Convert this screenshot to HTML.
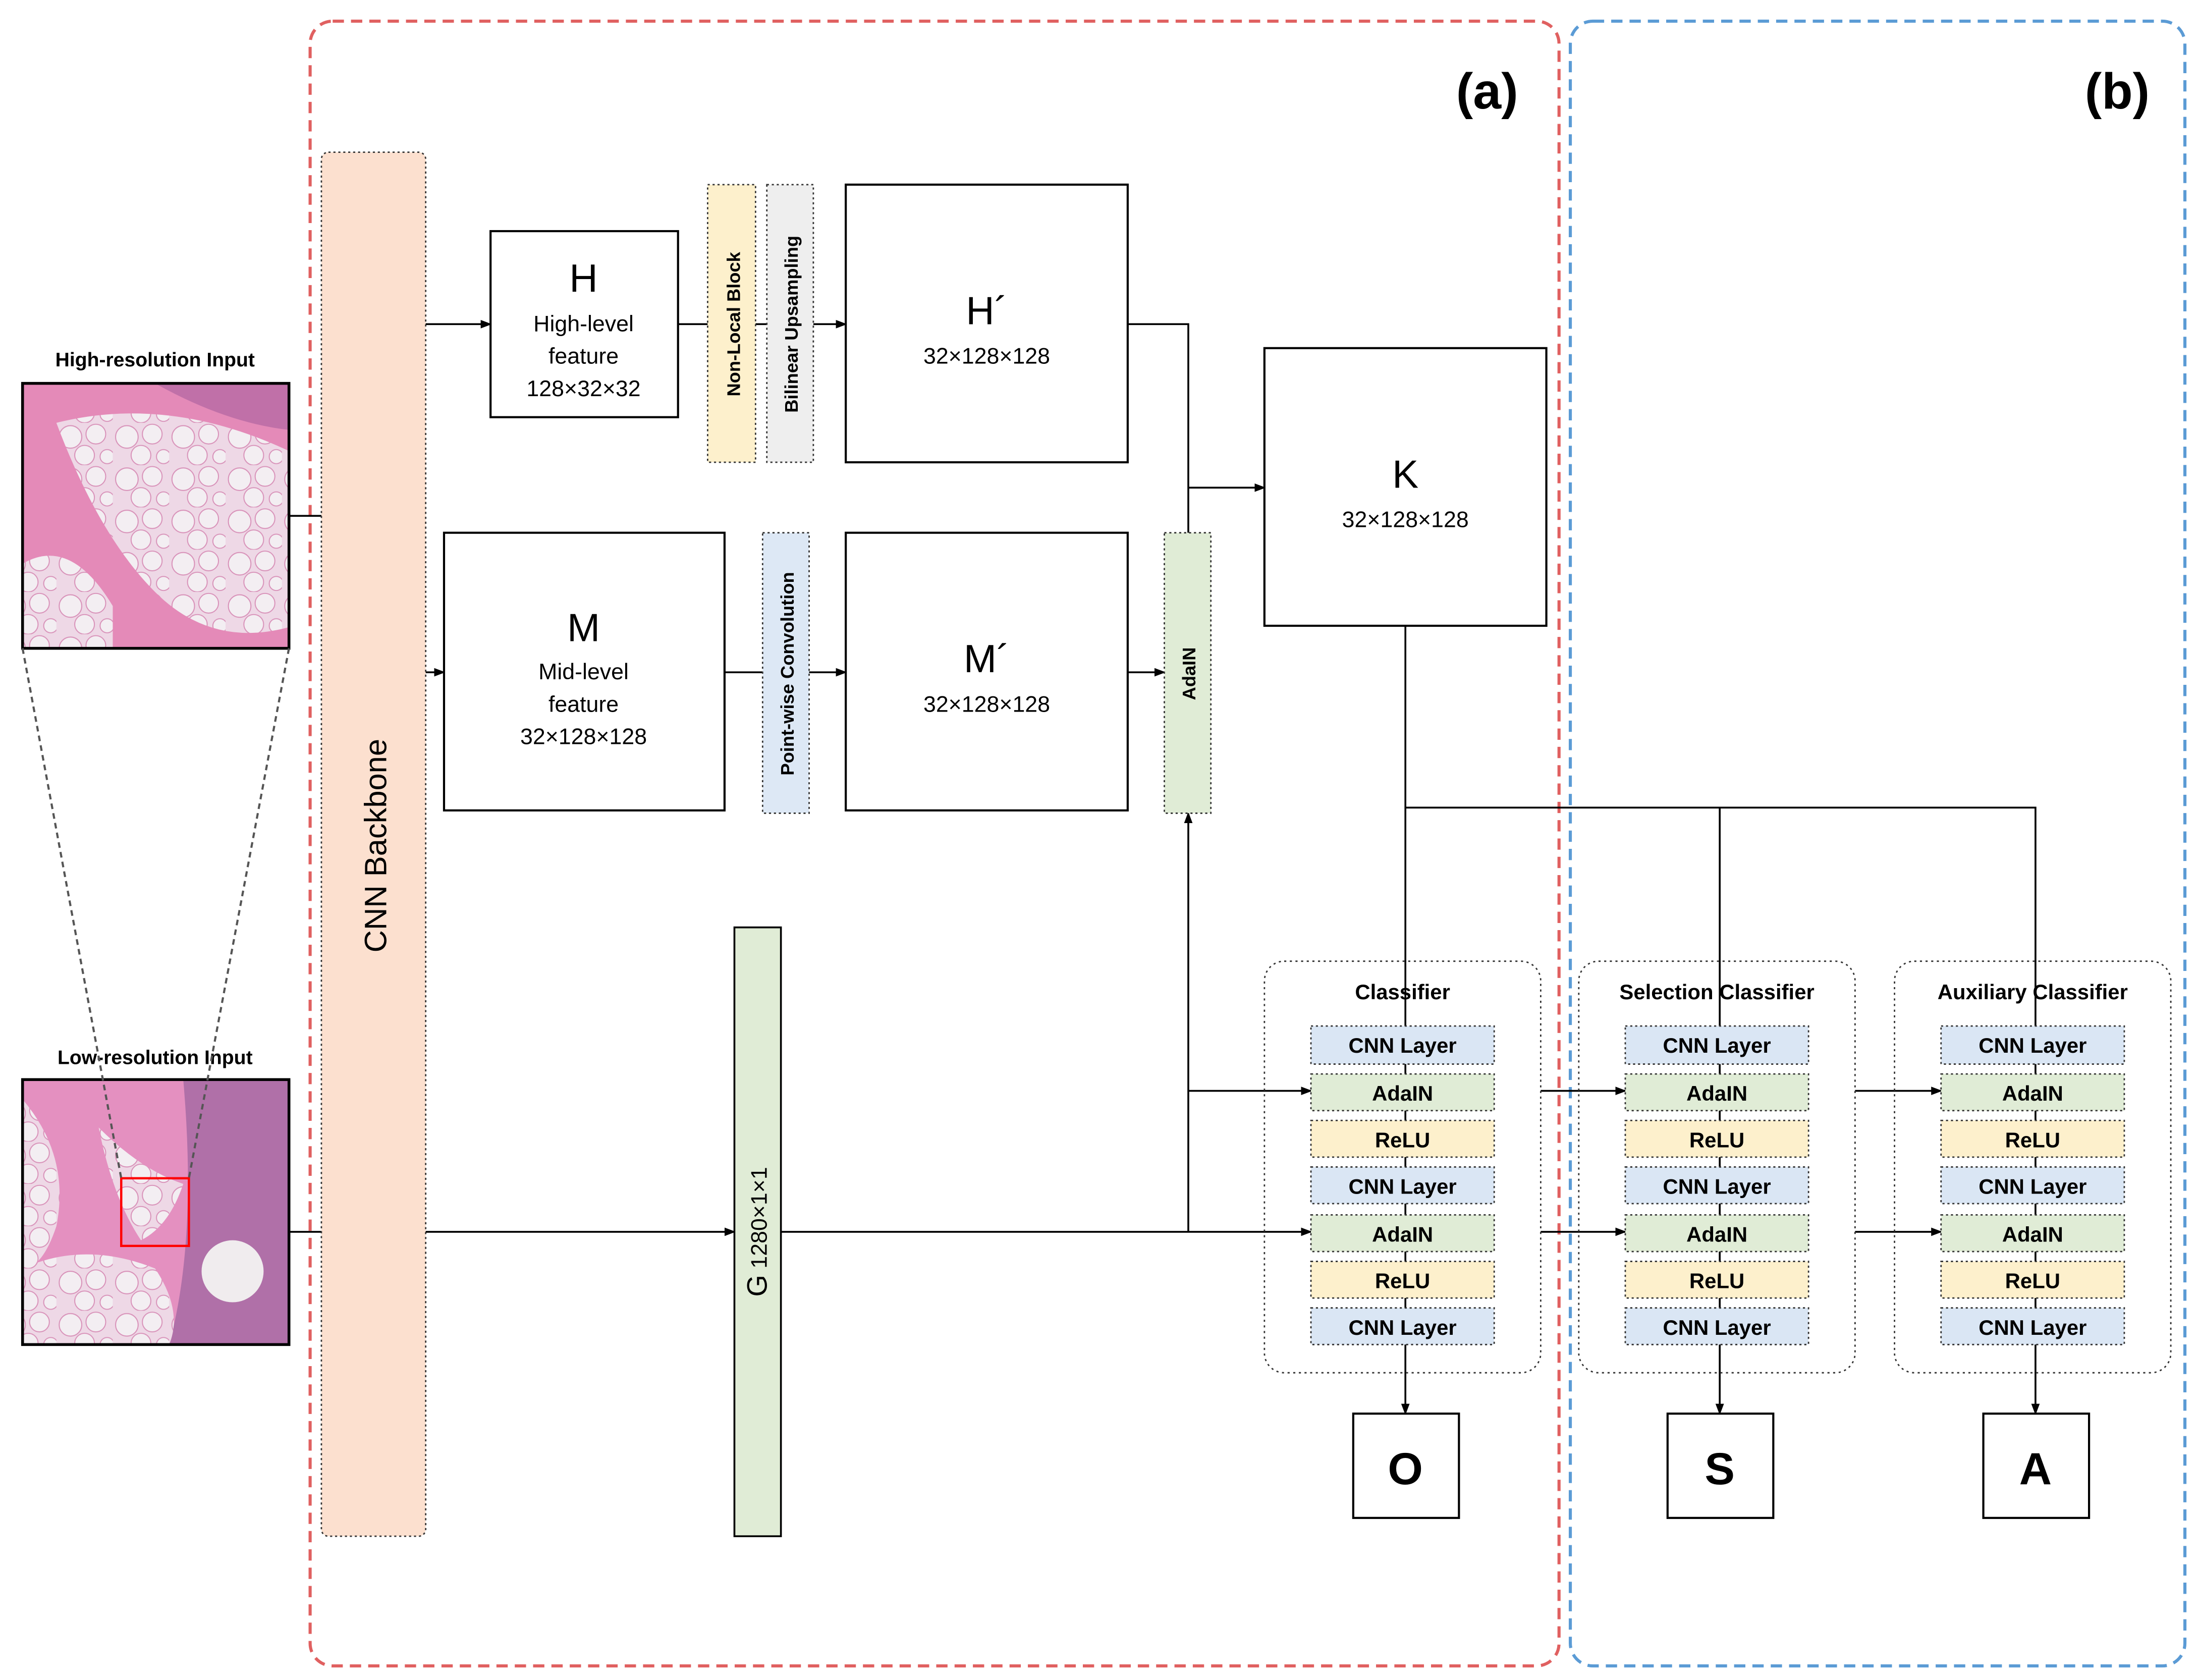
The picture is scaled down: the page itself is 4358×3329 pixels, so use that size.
<!DOCTYPE html>
<html><head><meta charset="utf-8"><style>
html,body{margin:0;padding:0;background:#fff;}
svg{display:block;}
text{font-family:"Liberation Sans","DejaVu Sans",sans-serif;fill:#000;}
.b{font-weight:bold;}
</style></head><body>
<svg width="4358" height="3329" viewBox="0 0 1560 1192" preserveAspectRatio="none" xmlns="http://www.w3.org/2000/svg">
<defs>
<marker id="ar" markerWidth="8" markerHeight="8" refX="7" refY="4" orient="auto" markerUnits="userSpaceOnUse">
<path d="M0,1 L8,4 L0,7 z" fill="#000"/></marker>
<pattern id="fat" width="40" height="30" patternUnits="userSpaceOnUse">
<rect width="40" height="30" fill="#eed8e6"/>
<circle cx="10" cy="10" r="8" fill="#f3eef2" stroke="#d890b8" stroke-width="0.7"/>
<circle cx="28" cy="8" r="7" fill="#f3eef2" stroke="#d890b8" stroke-width="0.7"/>
<circle cx="20" cy="23" r="7" fill="#f3eef2" stroke="#d890b8" stroke-width="0.7"/>
<circle cx="36" cy="24" r="5" fill="#f3eef2" stroke="#d890b8" stroke-width="0.7"/>
</pattern>
</defs>

<rect x="220" y="15" width="886" height="1167" rx="16" fill="none" stroke="#e06060" stroke-width="2.2" stroke-dasharray="8,5"/>
<rect x="1114" y="15" width="436" height="1167" rx="16" fill="none" stroke="#5b9bd5" stroke-width="2.2" stroke-dasharray="8,5"/>
<text x="1055" y="77" font-size="36" text-anchor="middle" class="b">(a)</text>
<text x="1502" y="77" font-size="36" text-anchor="middle" class="b">(b)</text>

<text x="110" y="260" font-size="14" text-anchor="middle" class="b">High-resolution Input</text>
<rect x="16" y="272" width="189" height="188" fill="#e48ab8"/>
<path d="M110,272 L205,272 L205,305 Q160,300 110,272 z" fill="#c070a8"/>
<path d="M40,300 Q120,280 205,320 L205,445 Q150,460 110,420 Q70,380 40,300 z" fill="url(#fat)"/>
<path d="M16,400 Q50,380 80,430 L80,460 L16,460 z" fill="url(#fat)"/>
<rect x="16" y="272" width="189" height="188" fill="none" stroke="#000" stroke-width="2"/>

<text x="110" y="755" font-size="14" text-anchor="middle" class="b">Low-resolution Input</text>
<rect x="16" y="766" width="189" height="188" fill="#e490c0"/>
<path d="M130,766 L205,766 L205,954 L120,954 Q140,880 130,766 z" fill="#b070a8"/>
<path d="M16,780 Q50,820 40,870 Q30,900 16,900 z" fill="url(#fat)"/>
<path d="M16,900 Q60,880 110,900 Q130,930 120,954 L16,954 z" fill="url(#fat)"/>
<path d="M70,800 Q100,830 130,840 Q120,870 100,880 Q80,850 70,800 z" fill="url(#fat)"/>
<circle cx="165" cy="902" r="22" fill="#f0ecee"/>
<rect x="16" y="766" width="189" height="188" fill="none" stroke="#000" stroke-width="2"/>
<rect x="86" y="836" width="48" height="48" fill="none" stroke="#ff0000" stroke-width="1.6"/>
<line x1="16" y1="460" x2="86" y2="836" stroke="#555" stroke-width="1.5" stroke-dasharray="4,3"/>
<line x1="205" y1="460" x2="134" y2="836" stroke="#555" stroke-width="1.5" stroke-dasharray="4,3"/>
<line x1="205" y1="366" x2="228" y2="366" stroke="#000" stroke-width="1.3"/>
<line x1="205" y1="874" x2="228" y2="874" stroke="#000" stroke-width="1.3"/>

<rect x="228" y="108" width="74" height="982" rx="5" fill="#fce0cf" stroke="#333" stroke-width="1" stroke-dasharray="1.5,2"/>
<text transform="translate(274,600) rotate(-90)" font-size="22" text-anchor="middle">CNN Backbone</text>

<g stroke="#000" stroke-width="1.3" fill="none">
<line x1="302" y1="230" x2="348" y2="230" marker-end="url(#ar)"/>
<line x1="481" y1="230" x2="502" y2="230"/>
<line x1="536" y1="230" x2="544" y2="230"/>
<line x1="577" y1="230" x2="600" y2="230" marker-end="url(#ar)"/>
<line x1="302" y1="477" x2="315" y2="477" marker-end="url(#ar)"/>
<line x1="514" y1="477" x2="541" y2="477"/>
<line x1="574" y1="477" x2="600" y2="477" marker-end="url(#ar)"/>
<line x1="800" y1="477" x2="826" y2="477" marker-end="url(#ar)"/>
<polyline points="800,230 843,230 843,378"/>
<line x1="843" y1="346" x2="897" y2="346" marker-end="url(#ar)"/>
<line x1="997" y1="444" x2="997" y2="728"/>
<polyline points="997,573 1444,573 1444,728"/>
<line x1="1220" y1="573" x2="1220" y2="728"/>
<line x1="302" y1="874" x2="521" y2="874" marker-end="url(#ar)"/>
<line x1="554" y1="874" x2="930" y2="874" marker-end="url(#ar)"/>
<line x1="843" y1="874" x2="843" y2="577" marker-end="url(#ar)"/>
<line x1="843" y1="774" x2="930" y2="774" marker-end="url(#ar)"/>
<line x1="1093" y1="774" x2="1153" y2="774" marker-end="url(#ar)"/>
<line x1="1093" y1="874" x2="1153" y2="874" marker-end="url(#ar)"/>
<line x1="1316" y1="774" x2="1377" y2="774" marker-end="url(#ar)"/>
<line x1="1316" y1="874" x2="1377" y2="874" marker-end="url(#ar)"/>
<line x1="997" y1="728" x2="997" y2="1003" marker-end="url(#ar)"/>
<line x1="1220" y1="728" x2="1220" y2="1003" marker-end="url(#ar)"/>
<line x1="1444" y1="728" x2="1444" y2="1003" marker-end="url(#ar)"/>
</g>

<rect x="348" y="164" width="133" height="132" fill="#fff" stroke="#000" stroke-width="1.5"/>
<text x="414" y="207" font-size="28" text-anchor="middle">H</text>
<text x="414" y="235" font-size="16" text-anchor="middle">High-level</text>
<text x="414" y="258" font-size="16" text-anchor="middle">feature</text>
<text x="414" y="281" font-size="16" text-anchor="middle">128×32×32</text>

<rect x="502" y="131" width="34" height="197" fill="#fdf0cc" stroke="#333" stroke-dasharray="1.5,2"/>
<text transform="translate(525,230) rotate(-90)" font-size="13" text-anchor="middle" class="b">Non-Local Block</text>
<rect x="544" y="131" width="33" height="197" fill="#eeeeee" stroke="#333" stroke-dasharray="1.5,2"/>
<text transform="translate(566,230) rotate(-90)" font-size="13" text-anchor="middle" class="b">Bilinear Upsampling</text>

<rect x="600" y="131" width="200" height="197" fill="#fff" stroke="#000" stroke-width="1.5"/>
<text x="700" y="230" font-size="28" text-anchor="middle">H´</text>
<text x="700" y="258" font-size="16" text-anchor="middle">32×128×128</text>

<rect x="315" y="378" width="199" height="197" fill="#fff" stroke="#000" stroke-width="1.5"/>
<text x="414" y="455" font-size="28" text-anchor="middle">M</text>
<text x="414" y="482" font-size="16" text-anchor="middle">Mid-level</text>
<text x="414" y="505" font-size="16" text-anchor="middle">feature</text>
<text x="414" y="528" font-size="16" text-anchor="middle">32×128×128</text>

<rect x="541" y="378" width="33" height="199" fill="#dde8f5" stroke="#333" stroke-dasharray="1.5,2"/>
<text transform="translate(563,478) rotate(-90)" font-size="13" text-anchor="middle" class="b">Point-wise Convolution</text>

<rect x="600" y="378" width="200" height="197" fill="#fff" stroke="#000" stroke-width="1.5"/>
<text x="700" y="477" font-size="28" text-anchor="middle">M´</text>
<text x="700" y="505" font-size="16" text-anchor="middle">32×128×128</text>

<rect x="826" y="378" width="33" height="199" fill="#e0ecd6" stroke="#333" stroke-dasharray="1.5,2"/>
<text transform="translate(848,478) rotate(-90)" font-size="13" text-anchor="middle" class="b">AdaIN</text>

<rect x="897" y="247" width="200" height="197" fill="#fff" stroke="#000" stroke-width="1.5"/>
<text x="997" y="346" font-size="28" text-anchor="middle">K</text>
<text x="997" y="374" font-size="16" text-anchor="middle">32×128×128</text>

<rect x="521" y="658" width="33" height="432" fill="#e0ecd6" stroke="#000" stroke-width="1.3"/>
<text transform="translate(544,874) rotate(-90)" font-size="16" text-anchor="middle"><tspan font-size="20">G</tspan> 1280×1×1</text>

<rect x="897" y="682" width="196" height="292" rx="14" fill="none" stroke="#333" stroke-dasharray="1.5,2.5"/>
<rect x="1120" y="682" width="196" height="292" rx="14" fill="none" stroke="#333" stroke-dasharray="1.5,2.5"/>
<rect x="1344" y="682" width="196" height="292" rx="14" fill="none" stroke="#333" stroke-dasharray="1.5,2.5"/>
<text x="995" y="709" font-size="15" text-anchor="middle" class="b">Classifier</text>
<text x="1218" y="709" font-size="15" text-anchor="middle" class="b">Selection Classifier</text>
<text x="1442" y="709" font-size="15" text-anchor="middle" class="b">Auxiliary Classifier</text>

<g font-size="15" text-anchor="middle" class="b">
<g stroke="#333" stroke-dasharray="1.5,2">
<rect x="930" y="728" width="130" height="27" fill="#dae6f4"/>
<rect x="930" y="762" width="130" height="26" fill="#e0ecd6"/>
<rect x="930" y="795" width="130" height="26" fill="#fdf0cc"/>
<rect x="930" y="828" width="130" height="26" fill="#dae6f4"/>
<rect x="930" y="862" width="130" height="26" fill="#e0ecd6"/>
<rect x="930" y="895" width="130" height="26" fill="#fdf0cc"/>
<rect x="930" y="928" width="130" height="26" fill="#dae6f4"/>
<rect x="1153" y="728" width="130" height="27" fill="#dae6f4"/>
<rect x="1153" y="762" width="130" height="26" fill="#e0ecd6"/>
<rect x="1153" y="795" width="130" height="26" fill="#fdf0cc"/>
<rect x="1153" y="828" width="130" height="26" fill="#dae6f4"/>
<rect x="1153" y="862" width="130" height="26" fill="#e0ecd6"/>
<rect x="1153" y="895" width="130" height="26" fill="#fdf0cc"/>
<rect x="1153" y="928" width="130" height="26" fill="#dae6f4"/>
<rect x="1377" y="728" width="130" height="27" fill="#dae6f4"/>
<rect x="1377" y="762" width="130" height="26" fill="#e0ecd6"/>
<rect x="1377" y="795" width="130" height="26" fill="#fdf0cc"/>
<rect x="1377" y="828" width="130" height="26" fill="#dae6f4"/>
<rect x="1377" y="862" width="130" height="26" fill="#e0ecd6"/>
<rect x="1377" y="895" width="130" height="26" fill="#fdf0cc"/>
<rect x="1377" y="928" width="130" height="26" fill="#dae6f4"/>
</g>
<g>
<text x="995" y="747">CNN Layer</text><text x="995" y="781">AdaIN</text><text x="995" y="814">ReLU</text><text x="995" y="847">CNN Layer</text><text x="995" y="881">AdaIN</text><text x="995" y="914">ReLU</text><text x="995" y="947">CNN Layer</text>
<text x="1218" y="747">CNN Layer</text><text x="1218" y="781">AdaIN</text><text x="1218" y="814">ReLU</text><text x="1218" y="847">CNN Layer</text><text x="1218" y="881">AdaIN</text><text x="1218" y="914">ReLU</text><text x="1218" y="947">CNN Layer</text>
<text x="1442" y="747">CNN Layer</text><text x="1442" y="781">AdaIN</text><text x="1442" y="814">ReLU</text><text x="1442" y="847">CNN Layer</text><text x="1442" y="881">AdaIN</text><text x="1442" y="914">ReLU</text><text x="1442" y="947">CNN Layer</text>
</g>
</g>

<rect x="960" y="1003" width="75" height="74" fill="#fff" stroke="#000" stroke-width="1.5"/>
<rect x="1183" y="1003" width="75" height="74" fill="#fff" stroke="#000" stroke-width="1.5"/>
<rect x="1407" y="1003" width="75" height="74" fill="#fff" stroke="#000" stroke-width="1.5"/>
<text x="997" y="1053" font-size="32" text-anchor="middle" class="b">O</text>
<text x="1220" y="1053" font-size="32" text-anchor="middle" class="b">S</text>
<text x="1444" y="1053" font-size="32" text-anchor="middle" class="b">A</text>
</svg>
</body></html>
